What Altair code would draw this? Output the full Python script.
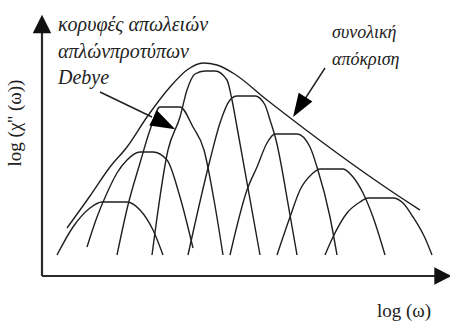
import altair as alt
import pandas as pd

# Sketch of Debye loss peaks: x = log(ω), y = log(χ''), arbitrary units.
# Each elementary Debye peak is a list of points along its outline.
peak1_x = [1.5, 3.1, 4.8, 6.0, 8.5, 9.8, 11.1, 12.1]
peak1_y = [2.1, 4.9, 6.8, 7.4, 7.4, 6.6, 4.6, 2.1]

peak2_x = [4.5, 5.5, 6.5, 7.5, 8.5, 9.8, 11.1, 12.5, 13.8, 15.1]
peak2_y = [2.9, 5.9, 8.3, 10.3, 11.6, 12.4, 12.4, 11.6, 7.9, 2.8]

peak3_x = [7.5, 8.6, 9.8, 10.8, 11.8, 13.8, 15.1, 16.2, 17.2, 18.1]
peak3_y = [2.1, 7.1, 11.3, 14.6, 16.9, 16.9, 14.9, 12.6, 7.6, 2.1]

peak4_x = [11.0, 12.6, 13.8, 14.5, 15.3, 16.3, 17.3, 18.5, 19.0, 19.5, 21.8]
peak4_y = [2.1, 12.6, 15.9, 18.6, 20.2, 20.5, 20.5, 19.6, 17.6, 14.9, 2.1]

peak5_x = [14.6, 16.8, 17.8, 18.8, 19.5, 21.3, 22.3, 22.8, 23.4, 24.8, 25.5]
peak5_y = [2.1, 11.6, 15.3, 17.6, 18.0, 18.0, 17.1, 15.6, 13.6, 6.1, 2.1]

peak6_x = [18.8, 20.5, 21.5, 22.5, 23.3, 25.5, 26.8, 27.5, 28.8, 29.5]
peak6_y = [2.1, 8.6, 10.9, 13.3, 14.2, 14.2, 12.9, 10.9, 5.9, 2.1]

peak7_x = [23.5, 24.8, 25.8, 27.0, 27.8, 30.1, 31.1, 32.1, 33.1, 34.3]
peak7_y = [2.1, 5.9, 8.6, 10.2, 10.7, 10.7, 9.9, 8.3, 5.9, 2.1]

peak8_x = [28.3, 29.1, 30.5, 31.8, 32.6, 35.1, 36.1, 37.1, 38.3, 39.0]
peak8_y = [2.1, 3.9, 6.3, 7.4, 7.8, 7.8, 7.3, 5.9, 3.8, 2.1]

# Overall response (envelope of the peaks)
total_x = [2.5, 4.8, 6.8, 8.5, 10.5, 12.8, 14.5, 16.1, 17.5, 19.1, 22.5, 35.8, 37.8]
total_y = [4.8, 8.0, 10.9, 12.9, 15.9, 18.9, 20.6, 21.3, 21.1, 20.3, 17.6, 7.9, 6.6]

# Axis lines and their arrow heads
axis_x = [0.0, 0.0]
axis_y = [0.0, 0.0]
axis_x2 = [0.0, 39.3]
axis_y2 = [24.3, 0.0]
yhead = (0.0, 25.2)
xhead = (40.1, 0.0)

# Pointer arrows for the annotations
pointer_x = [5.8, 28.3]
pointer_y = [18.4, 20.8]
pointer_x2 = [11.0, 26.1]
pointer_y2 = [15.9, 17.4]
debye_head = (12.1, 15.3)
total_head = (25.8, 17.0)

# Texts
peak_label = ["κορυφές απωλειών", "απλώνπροτύπων", "Debye"]
peak_label_x = [1.6, 1.6, 1.6]
peak_label_y = [24.5, 21.8, 19.2]
total_label = ["συνολική", "απόκριση"]
total_label_x = [29.0, 29.0]
total_label_y = [23.8, 21.1]
x_title = "log (ω)"
y_title = "log (χ'' (ω))"

INK = "#1f1f1f"
SERIF = "'Liberation Serif', 'Times New Roman', 'DejaVu Serif', serif"
XS = alt.Scale(domain=[-4.2, 40.8], nice=False, zero=False)
YS = alt.Scale(domain=[-4.7, 27.6], nice=False, zero=False)


def enc(**extra):
    return dict(x=alt.X("x:Q", scale=XS, axis=None),
                y=alt.Y("y:Q", scale=YS, axis=None), **extra)


peaks = []
for k, (px, py) in enumerate([(peak1_x, peak1_y), (peak2_x, peak2_y),
                              (peak3_x, peak3_y), (peak4_x, peak4_y),
                              (peak5_x, peak5_y), (peak6_x, peak6_y),
                              (peak7_x, peak7_y), (peak8_x, peak8_y)]):
    for i, (a, b) in enumerate(zip(px, py)):
        peaks.append({"peak": k, "i": i, "x": a, "y": b})
peaks_df = pd.DataFrame(peaks)
total_df = pd.DataFrame({"x": total_x, "y": total_y, "i": range(len(total_x))})

peak_lines = alt.Chart(peaks_df).mark_line(
    interpolate="monotone", color=INK, strokeWidth=1.4
).encode(**enc(detail="peak:N", order="i:Q"))

total_line = alt.Chart(total_df).mark_line(
    interpolate="monotone", color=INK, strokeWidth=1.4
).encode(**enc(order="i:Q"))

axes_df = pd.DataFrame({"x": axis_x, "y": axis_y, "x2": axis_x2, "y2": axis_y2})
axes = alt.Chart(axes_df).mark_rule(color="#2a2a2a", strokeWidth=2.2).encode(
    **enc(x2="x2:Q", y2="y2:Q"))

AXIS_HEAD = "M0,-1L1,1L-1,1Z"
POINTER_HEAD = "M0,-1L0.62,0.8L-0.62,0.8Z"

yhead_mark = alt.Chart(pd.DataFrame({"x": [yhead[0]], "y": [yhead[1]]})).mark_point(
    shape=AXIS_HEAD, filled=True, color="#111", opacity=1, size=340, angle=0
).encode(**enc())
xhead_mark = alt.Chart(pd.DataFrame({"x": [xhead[0]], "y": [xhead[1]]})).mark_point(
    shape=AXIS_HEAD, filled=True, color="#111", opacity=1, size=300, angle=90
).encode(**enc())

pointer_df = pd.DataFrame({"x": pointer_x, "y": pointer_y,
                           "x2": pointer_x2, "y2": pointer_y2})
pointers = alt.Chart(pointer_df).mark_rule(color=INK, strokeWidth=1.4).encode(
    **enc(x2="x2:Q", y2="y2:Q"))

debye_head_mark = alt.Chart(pd.DataFrame({"x": [debye_head[0]], "y": [debye_head[1]]})).mark_point(
    shape=POINTER_HEAD, filled=True, color="#000", opacity=1, size=760, angle=117
).encode(**enc())
total_head_mark = alt.Chart(pd.DataFrame({"x": [total_head[0]], "y": [total_head[1]]})).mark_point(
    shape=POINTER_HEAD, filled=True, color="#000", opacity=1, size=680, angle=212
).encode(**enc())

peak_text = alt.Chart(pd.DataFrame({"x": peak_label_x, "y": peak_label_y,
                                    "t": peak_label})).mark_text(
    align="left", baseline="alphabetic", font=SERIF,
    fontStyle="italic", fontSize=20, color="#222"
).encode(**enc(text="t:N"))

total_text = alt.Chart(pd.DataFrame({"x": total_label_x, "y": total_label_y,
                                     "t": total_label})).mark_text(
    align="left", baseline="alphabetic", font=SERIF,
    fontStyle="italic", fontSize=18, color="#222"
).encode(**enc(text="t:N"))

xtitle = alt.Chart(pd.DataFrame({"x": [33.5], "y": [-4.1], "t": [x_title]})).mark_text(
    align="left", baseline="alphabetic", font=SERIF,
    fontSize=19, color="#222"
).encode(**enc(text="t:N"))

ytitle = alt.Chart(pd.DataFrame({"x": [-2.7], "y": [15.3], "t": [y_title]})).mark_text(
    align="center", baseline="middle", font=SERIF,
    fontSize=19, color="#222", angle=270
).encode(**enc(text="t:N"))

chart = alt.layer(
    peak_lines, total_line, axes, yhead_mark, xhead_mark, pointers,
    debye_head_mark, total_head_mark, peak_text, total_text, xtitle, ytitle
).properties(
    width=450, height=323, padding=0,
    autosize=alt.AutoSizeParams(type="none"),
    background="white"
).configure_view(stroke=None)

chart.save("out.html", embed_options={"renderer": "svg", "actions": False})
